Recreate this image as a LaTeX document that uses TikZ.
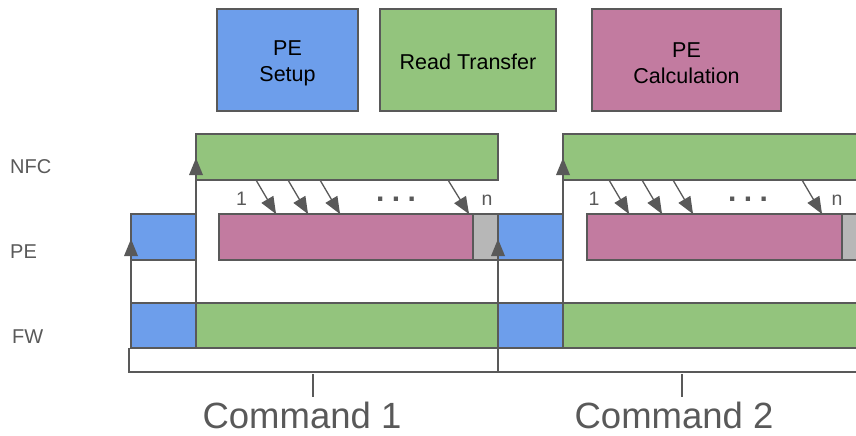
\documentclass[tikz,border=0pt]{standalone}
\usepackage{fontspec}
\setmainfont{Liberation Sans}
\usetikzlibrary{decorations.markings}
\definecolor{setupblue}{HTML}{6D9EEB}
\definecolor{readgreen}{HTML}{93C47D}
\definecolor{calcpink}{HTML}{C27BA0}
\definecolor{idlegray}{HTML}{B7B7B7}
\definecolor{edge}{HTML}{595959}
\tikzset{
  bar/.style={draw=edge, line width=1.2pt, rectangle, inner sep=0pt, outer sep=0pt},
  legendtext/.style={align=center, inner sep=0pt, text=black, font=\fontsize{21.5}{26}\selectfont},
  rowlabel/.style={anchor=base west, inner sep=0pt, text=edge, font=\fontsize{20}{24}\selectfont},
  idx/.style={anchor=base, inner sep=0pt, text=edge, font=\fontsize{19.5}{22}\selectfont},
  dotsym/.style={anchor=base, inner sep=0pt, text=edge, font=\fontsize{30}{30}\selectfont\bfseries},
  cmdlabel/.style={anchor=base, inner sep=0pt, text=edge, font=\fontsize{36.5}{40}\selectfont},
  % connector with a solid triangular head of fixed size
  arr/.style={draw=edge, line width=1.3pt,
    postaction={decorate, decoration={markings,
      mark=at position 1 with {\fill[edge] (0pt,0pt) -- (-17pt,7pt) -- (-17pt,-7pt) -- cycle;}}}},
  brace/.style={draw=edge, line width=1.3pt},
}
\begin{document}
\begin{tikzpicture}[x=1pt, y=-1pt]
\useasboundingbox (0,0) rectangle (856,436);
\clip (0,0) rectangle (856,436);

% legend
\node[bar, fill=setupblue, minimum width=141pt, minimum height=102pt] (lsetup) at (287.5,60) {};
\node[bar, fill=readgreen, minimum width=176pt, minimum height=102pt] (lread) at (468,60) {};
\node[bar, fill=calcpink, minimum width=189pt, minimum height=102pt] (lcalc) at (686.5,60) {};
\node[legendtext] (tsetup) at ([yshift=-3.5pt]lsetup.center) {PE\\Setup};
\node[legendtext] (tread) at ([yshift=-2pt]lread.center) {Read Transfer};
\node[legendtext] (tcalc) at ([yshift=-3.5pt]lcalc.center) {PE\\Calculation};

% row labels
\node[rowlabel] (lnfc) at (10,173) {NFC};
\node[rowlabel] (lpe) at (10,258) {PE};
\node[rowlabel] (lfw) at (12,343) {FW};

% NFC row
\node[bar, fill=readgreen, minimum width=302pt, minimum height=46pt] (nfc1) at (347,157) {};
\node[bar, fill=readgreen, minimum width=310pt, minimum height=46pt] (nfc2) at (718,157) {};

% PE row
\node[bar, fill=setupblue, minimum width=65pt, minimum height=46pt] (pes1) at (163.5,237) {};
\node[bar, fill=calcpink, minimum width=254pt, minimum height=46pt] (calc1) at (346,237) {};
\node[bar, fill=idlegray, minimum width=25pt, minimum height=46pt] (idle1) at (485.5,237) {};
\node[bar, fill=setupblue, minimum width=65pt, minimum height=46pt] (pes2) at (530.5,237) {};
\node[bar, fill=calcpink, minimum width=255pt, minimum height=46pt] (calc2) at (714.5,237) {};
\node[bar, fill=idlegray, minimum width=28pt, minimum height=46pt] (idle2) at (856,237) {};

% FW row
\node[bar, fill=setupblue, minimum width=65pt, minimum height=45pt] (fws1) at (163.5,325.5) {};
\node[bar, fill=readgreen, minimum width=302pt, minimum height=45pt] (fwr1) at (347,325.5) {};
\node[bar, fill=setupblue, minimum width=65pt, minimum height=45pt] (fws2) at (530.5,325.5) {};
\node[bar, fill=readgreen, minimum width=310pt, minimum height=45pt] (fwr2) at (718,325.5) {};

% triggers
\draw[arr] (fws1.north west) -- ([yshift=-2pt]pes1.west);
\draw[arr] (fws1.north east) -- ([yshift=-1pt]nfc1.west);
\draw[arr] (fwr1.north east) -- ([yshift=-2pt]pes2.west);
\draw[arr] (fws2.north east) -- ([yshift=-1pt]nfc2.west);

% transfer chunks, command 1
\draw[arr] ([xshift=60pt]nfc1.south west) -- ([xshift=57pt]calc1.north west);
\draw[arr] ([xshift=92pt]nfc1.south west) -- ([xshift=89pt]calc1.north west);
\draw[arr] ([xshift=124pt]nfc1.south west) -- ([xshift=121pt]calc1.north west);
\draw[arr] ([xshift=252pt]nfc1.south west) -- ([xshift=250pt]calc1.north west);
\node[idx] (one1) at (241.5,205) {1};
\node[idx] (n1) at (487,205) {n};
\node[dotsym] (dots1) at (396,201) {.\hspace{7.5pt}.\hspace{7.5pt}.};

% transfer chunks, command 2
\draw[arr] ([xshift=46pt]nfc2.south west) -- ([xshift=42pt]calc2.north west);
\draw[arr] ([xshift=79pt]nfc2.south west) -- ([xshift=75pt]calc2.north west);
\draw[arr] ([xshift=110pt]nfc2.south west) -- ([xshift=106pt]calc2.north west);
\draw[arr] ([xshift=239pt]nfc2.south west) -- ([xshift=235pt]calc2.north west);
\node[idx] (one2) at (594,205) {1};
\node[idx] (n2) at (837,205) {n};
\node[dotsym] (dots2) at (748,201) {.\hspace{7.5pt}.\hspace{7.5pt}.};

% command brackets
\coordinate (b1l) at (129,348);
\coordinate (b1r) at (498,348);
\coordinate (b2r) at (870,348);
\draw[brace] (b1l) -- ++(0,24) -| (b1r);
\draw[brace] (b1r) -- ++(0,24) -- (b2r |- 0,372);
\coordinate (t1) at (313,374);
\coordinate (t2) at (682,374);
\draw[brace] (t1) -- ++(0,23);
\draw[brace] (t2) -- ++(0,23);
\node[cmdlabel] (cmd1) at (302,428) {Command 1};
\node[cmdlabel] (cmd2) at (674,428) {Command 2};
\end{tikzpicture}
\end{document}
